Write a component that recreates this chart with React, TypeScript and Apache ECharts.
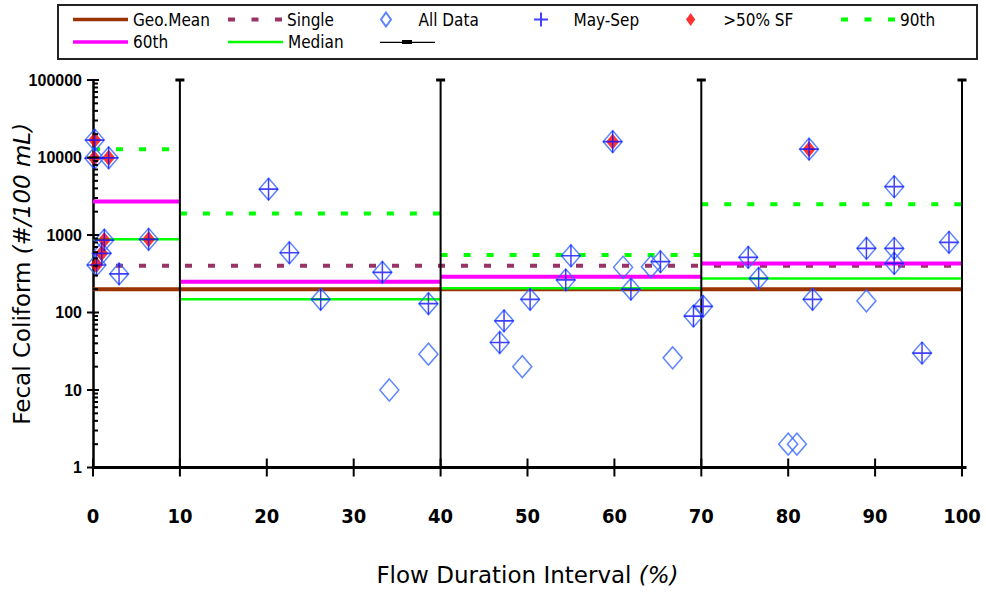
import React, { useEffect, useRef } from "react";
import * as echarts from "echarts";

// ---- data ----
const xTickLabels = [0, 10, 20, 30, 40, 50, 60, 70, 80, 90, 100];
const yTickLabels = [1, 10, 100, 1000, 10000, 100000];
const minorMultipliers = [2, 3, 4, 5, 6, 7, 8, 9];
const intervalBounds = [0, 10, 40, 70, 100];
const separators = [10, 40, 70, 100];

const geoMean = 200;
const singleSample = 400;
const p90 = [12800, 1900, 550, 2500];
const p60 = [2700, 250, 290, 430];
const median = [880, 148, 205, 275];

const allData: [number, number][] = [
  [0.2, 16800], [0.15, 9800], [1.8, 9900], [1.3, 860], [6.4, 880], [1.0, 580], [0.4, 410], [3.0, 315],
  [20.2, 3900], [22.6, 590], [26.2, 148], [33.3, 330], [38.6, 130], [38.6, 29], [34.1, 10],
  [59.8, 16000], [55.0, 540], [54.4, 263], [50.3, 148], [47.3, 78], [46.8, 41], [49.4, 20],
  [61.0, 383], [64.2, 390], [65.3, 452], [61.9, 200], [66.7, 26], [69.1, 90], [70.2, 120],
  [82.4, 12800], [92.2, 4200], [75.4, 515], [76.6, 276], [82.8, 148], [89.0, 673], [89.0, 141],
  [92.2, 670], [92.2, 430], [95.4, 30], [98.5, 805], [80.0, 2], [81.0, 2],
];

const maySep: [number, number][] = [
  [0.2, 16800], [0.15, 9800], [1.8, 9900], [1.3, 860], [6.4, 880], [1.0, 580], [0.4, 410], [3.0, 315],
  [20.2, 3900], [22.6, 590], [26.2, 148], [33.3, 330], [38.6, 130],
  [59.8, 16000], [55.0, 540], [54.4, 263], [50.3, 148], [47.3, 78], [46.8, 41],
  [65.3, 452], [61.9, 200], [69.1, 90], [70.2, 120],
  [82.4, 12800], [92.2, 4200], [75.4, 515], [76.6, 276], [82.8, 148], [89.0, 673],
  [92.2, 670], [92.2, 430], [95.4, 30], [98.5, 805],
];

const highFlow: [number, number][] = [
  [0.2, 16800], [0.15, 9800], [1.8, 9900], [1.3, 860], [6.4, 880], [1.0, 580], [0.4, 410],
  [59.8, 16000], [82.4, 12800],
];

const legendNames = ["Geo.Mean", "Single", "All Data", "May-Sep", ">50% SF", "90th", "60th", "Median", " "];

export default function App() {
  const ref = useRef<HTMLDivElement>(null);

  useEffect(() => {
    if (!ref.current) return;
    const chart = echarts.init(ref.current, undefined, { renderer: "svg" });

    const segSeries = (name: string, vals: number[], color: string, width: number, dashed: boolean) =>
      vals.map((v, i) => ({
        name,
        type: "line",
        data: [
          [intervalBounds[i], v],
          [intervalBounds[i + 1], v],
        ],
        symbol: "none",
        itemStyle: { color },
        lineStyle: { color, width, type: dashed ? [7, 16] : "solid", cap: "butt" },
        z: 3,
        silent: true,
      }));

    const tickData: number[][] = [];
    xTickLabels.forEach((x) => tickData.push([x, 1, 0]));
    yTickLabels.forEach((y) => tickData.push([0, y, 1]));
    yTickLabels.slice(0, -1).forEach((d) => minorMultipliers.forEach((m) => tickData.push([0, d * m, 2])));

    const fontMain = "'DejaVu Sans', sans-serif";
    const fontNarrow = "'Liberation Sans Narrow', 'DejaVu Sans Condensed', 'Liberation Sans', sans-serif";

    const solidIcon = "path://M0 0H55V3.5H0Z";
    const thinIcon = "path://M0 0H55V2.5H0Z";
    const dashIcon = "path://M0 0H7V4H0Z M23.5 0H30.5V4H23.5Z M47 0H54V4H47Z";
    const blackIcon = "path://M0 2L55 2L55 3.4L0 3.4Z M22 0.3L32 0.3L32 4.3L22 4.3Z";
    const diamondIcon = "path://M5 0L10 7L5 14L0 7Z";

    // [left, rowCenter, icon, iconHeight, iconWidth]
    const legendCfg: Record<string, [number, number, string | undefined, number, number]> = {
      "Geo.Mean": [73, 20.5, solidIcon, 3.5, 55],
      Single: [228, 20.5, dashIcon, 4, 54],
      "All Data": [380, 20.5, diamondIcon, 14, 55],
      "May-Sep": [533, 20.5, undefined, 14, 55],
      ">50% SF": [686, 20.5, diamondIcon, 13, 55],
      "90th": [841, 20.5, dashIcon, 4, 54],
      "60th": [73, 43, solidIcon, 3.5, 55],
      Median: [228, 43, thinIcon, 2.5, 55],
      " ": [380, 43, blackIcon, 4, 55],
    };

    const legends = legendNames.map((n) => {
      const c = legendCfg[n];
      return {
        data: [n],
        left: c[0],
        top: c[1] - 9.5,
        padding: 0,
        itemWidth: c[4],
        itemHeight: c[3],
        symbolKeepAspect: true,
        selectedMode: false,
        icon: c[2],
        textStyle: { fontFamily: fontNarrow, fontSize: 17, color: "#000" },
      };
    });

    const option: any = {
      animation: false,
      backgroundColor: "#fff",
      legend: legends,
      graphic: [
        {
          type: "rect",
          shape: { x: 58, y: 5, width: 919, height: 54 },
          style: { fill: "none", stroke: "#222", lineWidth: 2 },
          silent: true,
        },
      ],
      grid: { left: 93, right: 24, top: 80, bottom: 130.5, containLabel: false, outerBoundsMode: "none" },
      xAxis: {
        type: "value",
        min: 0,
        max: 100,
        interval: 10,
        axisLine: { show: true, lineStyle: { color: "#000", width: 3 } },
        axisTick: { show: false },
        splitLine: { show: false },
        axisLabel: { margin: 38, fontFamily: fontNarrow, fontSize: 20, fontWeight: "bold", color: "#000" },
        name: "{a|Flow Duration Interval }{b|(%)}",
        nameLocation: "middle",
        nameGap: 96,
        nameMoveOverlap: false,
        nameTextStyle: {
          rich: {
            a: { fontFamily: fontMain, fontSize: 23, color: "#000" },
            b: { fontFamily: fontMain, fontSize: 23, color: "#000", fontStyle: "italic" },
          },
        },
      },
      yAxis: {
        type: "log",
        logBase: 10,
        min: 1,
        max: 100000,
        axisLine: { show: true, lineStyle: { color: "#000", width: 2.5 } },
        axisTick: { show: false },
        minorTick: { show: false },
        splitLine: { show: false },
        axisLabel: {
          margin: 11,
          fontFamily: "'Liberation Sans', sans-serif",
          fontSize: 16,
          fontWeight: "bold",
          color: "#000",
          formatter: (v: number) => String(Math.round(v)),
        },
        name: "{a|Fecal Coliform }{b|(#/100 mL)}",
        nameLocation: "middle",
        nameGap: 60,
        nameMoveOverlap: false,
        nameTextStyle: {
          rich: {
            a: { fontFamily: fontMain, fontSize: 23, color: "#000" },
            b: { fontFamily: fontMain, fontSize: 23, color: "#000", fontStyle: "italic" },
          },
        },
      },
      series: [
        {
          name: "Geo.Mean",
          type: "line",
          data: [
            [0, geoMean],
            [100, geoMean],
          ],
          symbol: "none",
          itemStyle: { color: "#993300" },
          lineStyle: { color: "#993300", width: 4 },
          z: 2,
          silent: true,
        },
        {
          name: "Single",
          type: "line",
          data: [
            [0, singleSample],
            [100, singleSample],
          ],
          symbol: "none",
          itemStyle: { color: "#993366" },
          lineStyle: { color: "#993366", width: 4, type: [7, 16], cap: "butt" },
          z: 2,
          silent: true,
        },
        ...segSeries("90th", p90, "#00FF00", 4, true),
        ...segSeries("60th", p60, "#FF00FF", 4, false),
        ...segSeries("Median", median, "#00FF00", 2.5, false),
        ...separators.map((x) => ({
          name: " ",
          type: "line",
          data: [
            [x, 1],
            [x, 100000],
          ],
          symbol: "rect",
          symbolSize: [9, 3],
          showSymbol: true,
          itemStyle: { color: "#000" },
          lineStyle: { color: "#000", width: 2 },
          z: 4,
          silent: true,
        })),
        {
          name: "All Data",
          type: "scatter",
          data: allData,
          symbol: "diamond",
          symbolSize: [19, 22],
          itemStyle: { color: "rgba(0,0,0,0)", borderColor: "#3366FF", borderWidth: 1.5 },
          z: 5,
          silent: true,
        },
        {
          name: ">50% SF",
          type: "scatter",
          data: highFlow,
          symbol: "diamond",
          symbolSize: [13, 16],
          itemStyle: { color: "#FF0000" },
          z: 6,
          silent: true,
        },
        {
          name: "May-Sep",
          type: "scatter",
          data: maySep,
          symbol: "path://M10 0L10 20M0 10L20 10",
          symbolSize: [19, 22],
          itemStyle: { color: "rgba(0,0,0,0)", borderColor: "#1010FF", borderWidth: 1.6 },
          z: 7,
          silent: true,
        },
        {
          name: "ticks",
          type: "custom",
          data: tickData,
          clip: false,
          z: 8,
          silent: true,
          renderItem: (_params: any, api: any) => {
            const p = api.coord([api.value(0), api.value(1)]);
            const k = api.value(2);
            let shape;
            if (k === 0) shape = { x1: p[0], y1: p[1] - 9, x2: p[0], y2: p[1] + 9 };
            else if (k === 1) shape = { x1: p[0] - 6, y1: p[1], x2: p[0] + 6, y2: p[1] };
            else shape = { x1: p[0], y1: p[1], x2: p[0] + 5, y2: p[1] };
            return { type: "line", shape, style: { stroke: "#000", lineWidth: 2 } };
          },
        },
      ],
    };

    chart.setOption(option);
    return () => chart.dispose();
  }, []);

  return <div ref={ref} style={{ width: 986, height: 598, position: "absolute", left: 0, top: 0 }} />;
}
